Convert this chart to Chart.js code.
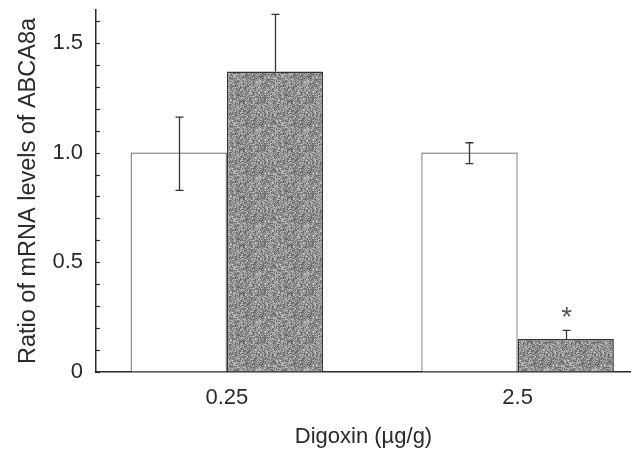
<!DOCTYPE html>
<html>
<head>
<meta charset="utf-8">
<script src="https://cdn.jsdelivr.net/npm/chart.js@4.4.1/dist/chart.umd.min.js"></script>
<style>
html, body { margin: 0; padding: 0; background: #ffffff; }
#wrap { width: 631px; height: 451px; position: relative; }
</style>
</head>
<body>
<div id="wrap"><canvas id="c" width="631" height="451"></canvas></div>
<script>
// ---- data ----
const doses = ['0.25', '2.5'];
const controlValues = [1.0, 1.0];
const controlErrUp = [0.162, 0.045];
const controlErrDown = [0.172, 0.05];
const digoxinValues = [1.37, 0.15];
const digoxinErrUp = [0.26, 0.04];
const digoxinErrDown = [0, 0];
const digoxinSig = ['', '*'];
const yTickValues = [0, 0.5, 1.0, 1.5];
const yTickLabels = ['0', '0.5', '1.0', '1.5'];
const yMinorStep = 0.1;
const yAxisMax = 1.65;
const xAxisTitle = 'Digoxin (\u00b5g/g)';
const yAxisTitle = 'Ratio of mRNA levels of ABCA8a';

// ---- texture for the shaded bars (deterministic dither) ----
function makeTexture() {
  const size = 48;
  const c = document.createElement('canvas');
  c.width = size; c.height = size;
  const g = c.getContext('2d');
  const img = g.createImageData(size, size);
  for (let py = 0; py < size; py++) {
    for (let px = 0; px < size; px++) {
      let h = (px * 374761393 + py * 668265263) | 0;
      h = Math.imul(h ^ (h >>> 13), 1274126177);
      const n = ((h ^ (h >>> 16)) >>> 0) / 4294967295;
      const v = Math.round(92 + n * 104);
      const o = (py * size + px) * 4;
      img.data[o] = v; img.data[o + 1] = v; img.data[o + 2] = v; img.data[o + 3] = 255;
    }
  }
  g.putImageData(img, 0, 0);
  return g.createPattern(c, 'repeat');
}

const ink = '#2a2a2a';
Chart.defaults.font.family = '"Liberation Sans", Arial, Helvetica, sans-serif';
Chart.defaults.color = ink;

const decorPlugin = {
  id: 'decor',
  afterDatasetsDraw(chart) {
    const ctx = chart.ctx;
    const ys = chart.scales.y;
    const sets = [
      { meta: chart.getDatasetMeta(0), vals: controlValues, up: controlErrUp, down: controlErrDown, sig: null },
      { meta: chart.getDatasetMeta(1), vals: digoxinValues, up: digoxinErrUp, down: digoxinErrDown, sig: digoxinSig }
    ];
    ctx.save();
    ctx.strokeStyle = '#333';
    ctx.lineWidth = 1.3;
    sets.forEach(s => {
      s.meta.data.forEach((bar, i) => {
        const x = Math.round(bar.x) + 0.5;
        const top = ys.getPixelForValue(s.vals[i] + s.up[i]);
        const bot = ys.getPixelForValue(s.vals[i] - s.down[i]);
        ctx.beginPath();
        ctx.moveTo(x, top); ctx.lineTo(x, bot);
        ctx.moveTo(x - 4, top); ctx.lineTo(x + 4, top);
        if (s.down[i] > 0) { ctx.moveTo(x - 4, bot); ctx.lineTo(x + 4, bot); }
        ctx.stroke();
        if (s.sig && s.sig[i]) {
          ctx.fillStyle = '#555';
          ctx.font = '28px "Liberation Sans", sans-serif';
          ctx.textAlign = 'center';
          ctx.textBaseline = 'alphabetic';
          const m = ctx.measureText(s.sig[i]);
          const cy = top - 18;
          const base = cy + (m.actualBoundingBoxAscent - m.actualBoundingBoxDescent) / 2;
          ctx.fillText(s.sig[i], bar.x + 1, base);
        }
      });
    });
    // y-axis tick marks pointing into the plot
    ctx.strokeStyle = ink;
    ctx.lineWidth = 1.2;
    const ax = ys.right;
    const steps = Math.floor(yAxisMax / yMinorStep + 1e-9);
    for (let k = 0; k <= steps; k++) {
      const v = k * yMinorStep;
      const py = Math.round(ys.getPixelForValue(v)) + 0.5;
      ctx.beginPath();
      ctx.moveTo(ax, py); ctx.lineTo(ax + 4, py);
      ctx.stroke();
    }
    ctx.restore();
  }
};

const texture = makeTexture();

new Chart(document.getElementById('c'), {
  type: 'bar',
  data: {
    datasets: [
      {
        label: 'Control',
        data: controlValues.map((v, i) => ({ x: i, y: v })),
        backgroundColor: '#ffffff',
        borderColor: '#555',
        borderWidth: 1.2
      },
      {
        label: 'Digoxin',
        data: digoxinValues.map((v, i) => ({ x: i, y: v })),
        backgroundColor: texture,
        borderColor: '#333',
        borderWidth: 1.5
      }
    ]
  },
  plugins: [decorPlugin],
  options: {
    responsive: false,
    animation: false,
    devicePixelRatio: 1,
    categoryPercentage: 0.662,
    barPercentage: 1.0,
    layout: { padding: { top: 10, left: 0, right: 0, bottom: 0 } },
    plugins: { legend: { display: false }, tooltip: { enabled: false } },
    scales: {
      x: {
        type: 'linear',
        offset: false,
        min: -0.45,
        max: 1.39,
        grid: { display: true, offset: false, drawOnChartArea: false, drawTicks: false },
        border: { display: true, color: ink, width: 1.5 },
        afterBuildTicks: (scale) => { scale.ticks = doses.map((_, i) => ({ value: i })); },
        ticks: {
          padding: 13,
          font: { size: 22 },
          color: ink,
          callback: (v) => doses[v]
        },
        title: {
          display: true,
          text: xAxisTitle,
          font: { size: 22 },
          color: ink,
          padding: { top: 0, bottom: 1 }
        },
        afterFit: (scale) => { scale.height = 79; scale.paddingLeft = 0; scale.paddingRight = 0; }
      },
      y: {
        min: 0,
        max: yAxisMax,
        grid: { display: true, drawOnChartArea: false, drawTicks: false },
        border: { display: true, color: ink, width: 1.5 },
        afterBuildTicks: (scale) => { scale.ticks = yTickValues.map(v => ({ value: v })); },
        ticks: {
          padding: 13,
          font: { size: 22 },
          color: ink,
          callback: (v) => yTickLabels[yTickValues.indexOf(v)]
        },
        title: {
          display: true,
          text: yAxisTitle,
          font: { size: 23.5 },
          color: ink,
          padding: { top: 14, bottom: 0 }
        },
        afterFit: (scale) => { scale.width = 96; scale.paddingTop = 0; scale.paddingBottom = 0; }
      }
    }
  }
});
</script>
</body>
</html>
